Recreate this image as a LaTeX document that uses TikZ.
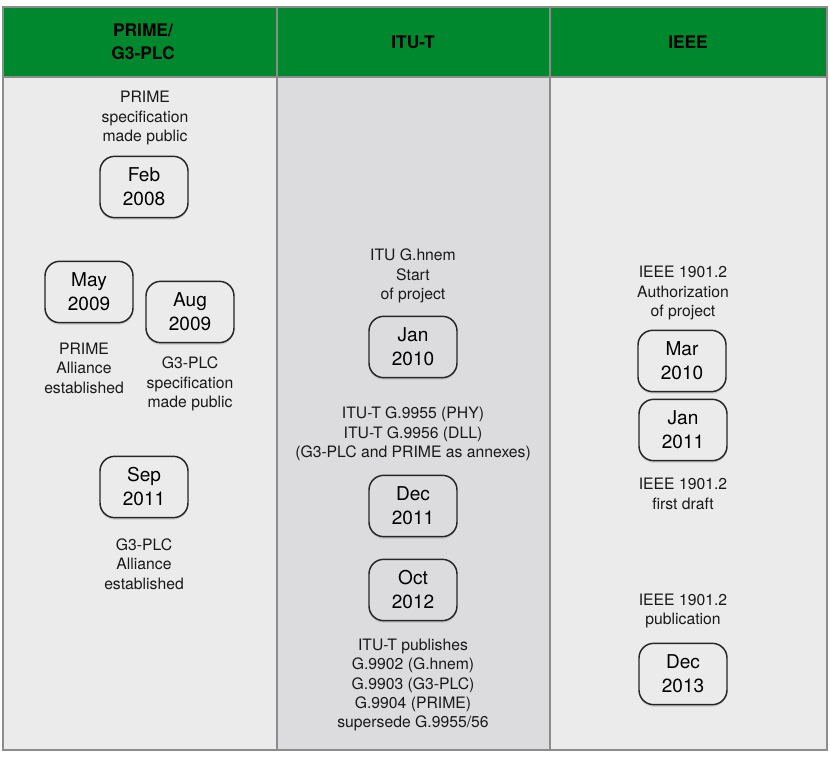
\documentclass[tikz,border=0pt]{standalone}
\usepackage{fontspec}
\setmainfont{TeX Gyre Heros}
\usetikzlibrary{shadows}
\definecolor{hdrgreen}{RGB}{0,136,46}
\definecolor{colA}{RGB}{235,235,235}
\definecolor{colB}{RGB}{220,220,222}
\definecolor{gridline}{RGB}{140,140,140}
\tikzset{
  datebox/.style={draw=black!85, line width=1.1pt, rounded corners=11pt, fill=colA,
    minimum width=66pt, minimum height=46pt, align=center, inner sep=0pt,
    font=\fontsize{14.3}{18}\selectfont,
    drop shadow={opacity=0.22, shadow xshift=0pt, shadow yshift=-1.6pt}},
  dateboxmid/.style={datebox, fill=colB},
  caption/.style={align=center, inner sep=0pt, font=\fontsize{11.8}{14.6}\selectfont, text=black!90},
  hdr/.style={align=center, inner sep=0pt, font=\bfseries\fontsize{13}{17}\selectfont},
}
\begin{document}
\begin{tikzpicture}[x=0.75pt,y=-0.75pt]
\useasboundingbox (0,0) rectangle (830,760);
% column backgrounds
\fill[colA] (3,77) rectangle (277,750);
\fill[colB] (277,77) rectangle (550,750);
\fill[colA] (550,77) rectangle (827,750);
\fill[hdrgreen] (3,7) rectangle (827,77);
% grid
\draw[gridline, line width=0.9pt] (3,7) rectangle (827,750);
\draw[gridline, line width=0.9pt] (277,7) -- (277,750);
\draw[gridline, line width=0.9pt] (550,7) -- (550,750);
\draw[gridline, line width=0.9pt] (3,77) -- (827,77);
% headers
\node[hdr] (h1) at (143,42) {PRIME/\\G3-PLC};
\node[hdr] (h2) at (413,42) {ITU-T};
\node[hdr] (h3) at (688,42) {IEEE};
% left column
\node[caption] (c1) at (145,118) {PRIME\\specification\\made public};
\node[datebox] (b1) at (144,187) {Feb\\2008};
\node[datebox] (b2) at (89,292) {May\\2009};
\node[datebox] (b3) at (190,312) {Aug\\2009};
\node[caption] (c2) at (84,368) {PRIME\\Alliance\\established};
\node[caption] (c3) at (190,384) {G3-PLC\\specification\\made public};
\node[datebox] (b4) at (144,487) {Sep\\2011};
\node[caption] (c4) at (144,564) {G3-PLC\\Alliance\\established};
% middle column
\node[caption] (c5) at (413,276) {ITU G.hnem\\Start\\of project};
\node[dateboxmid] (b5) at (413,347) {Jan\\2010};
\node[caption] (c6) at (413,434) {ITU-T G.9955 (PHY)\\ITU-T G.9956 (DLL)\\(G3-PLC and PRIME as annexes)};
\node[dateboxmid] (b6) at (413,506) {Dec\\2011};
\node[dateboxmid] (b7) at (413,590) {Oct\\2012};
\node[caption] (c7) at (413,685) {ITU-T publishes\\G.9902 (G.hnem)\\G.9903 (G3-PLC)\\G.9904 (PRIME)\\supersede G.9955/56};
% right column
\node[caption] (c8) at (683,293) {IEEE 1901.2\\Authorization\\of project};
\node[datebox] (b8) at (682,361) {Mar\\2010};
\node[datebox] (b9) at (683,430) {Jan\\2011};
\node[caption] (c9) at (683,494) {IEEE 1901.2\\first draft};
\node[caption] (c10) at (683,611) {IEEE 1901.2\\publication};
\node[datebox] (b10) at (683,674) {Dec\\2013};
\end{tikzpicture}
\end{document}
